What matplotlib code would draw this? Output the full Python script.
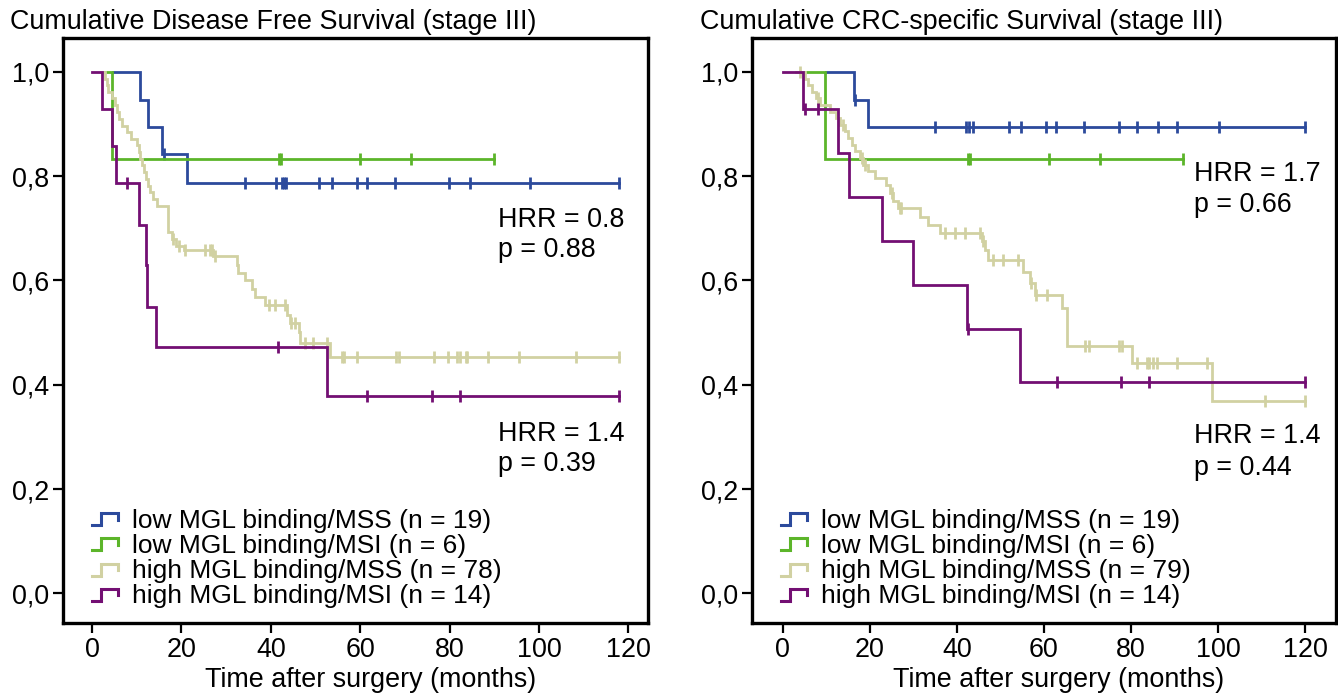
import numpy as np
import matplotlib
matplotlib.use("Agg")
import matplotlib.pyplot as plt
from matplotlib.legend_handler import HandlerBase
from matplotlib.lines import Line2D

plt.rcParams['font.family'] = ['Liberation Sans', 'DejaVu Sans']

# colours of the four groups
c_blue = '#2c4a9c'
c_green = '#5cb52a'
c_khaki = '#d1d1a2'
c_purple = '#730f73'

labels_dfs = ['low MGL binding/MSS (n = 19)', 'low MGL binding/MSI (n = 6)',
              'high MGL binding/MSS (n = 78)', 'high MGL binding/MSI (n = 14)']
labels_crc = ['low MGL binding/MSS (n = 19)', 'low MGL binding/MSI (n = 6)',
              'high MGL binding/MSS (n = 79)', 'high MGL binding/MSI (n = 14)']

# ---- disease free survival (left) ----
dfs_blue_start, dfs_blue_end = 4.7, 118
dfs_blue_t = [10.7, 12.5, 15.7, 21.3]
dfs_blue_s = [0.947, 0.895, 0.842, 0.786]
dfs_blue_cens = [16.2, 34.2, 41.2, 42.5, 43.0, 43.5, 50.8, 53.7, 59.3, 61.5,
                 67.8, 79.9, 84.6, 98.0, 118.0]

dfs_green_start, dfs_green_end = 3.0, 90
dfs_green_t = [4.4]
dfs_green_s = [0.833]
dfs_green_cens = [41.8, 42.2, 60.0, 71.4, 90.0]

dfs_khaki_start, dfs_khaki_end = 2.0, 118
dfs_khaki_t = [2.9, 3.4, 3.6, 4.5, 5.1, 5.6, 6.0, 6.7, 7.8, 8.7,
               10.1, 10.4, 10.7, 11.2, 11.6, 12.1, 12.5, 13.0, 13.6, 14.5,
               16.9, 17.1, 17.9, 18.8, 20.6, 27.1, 32.4, 32.7, 34.2, 35.7,
               36.5, 38.7, 43.6, 44.2, 46.2, 46.5, 53.2]
dfs_khaki_s = [0.987, 0.974, 0.962, 0.949, 0.936, 0.923, 0.910, 0.897, 0.885, 0.872,
               0.859, 0.846, 0.833, 0.821, 0.808, 0.795, 0.782, 0.769, 0.756, 0.743,
               0.717, 0.692, 0.679, 0.666, 0.658, 0.646, 0.630, 0.615, 0.600, 0.584,
               0.568, 0.553, 0.534, 0.519, 0.502, 0.480, 0.453]
dfs_khaki_cens = [18.2, 19.5, 20.8, 25.3, 26.4, 26.8, 27.5, 39.5, 40.9, 43.2, 44.6,
                  45.5, 47.7, 49.5, 52.5, 55.9, 56.4, 59.2, 68.0, 68.7, 76.6, 79.6,
                  81.6, 82.3, 83.6, 84.0, 88.5, 95.5, 108.4, 118.0]

dfs_purple_start, dfs_purple_end = 0.0, 118
dfs_purple_t = [2.2, 4.4, 5.3, 10.4, 12.0, 12.3, 14.2, 52.6]
dfs_purple_s = [0.929, 0.857, 0.786, 0.707, 0.629, 0.550, 0.473, 0.378]
dfs_purple_cens = [7.9, 41.7, 61.6, 76.0, 82.3, 118.0]

# ---- CRC-specific survival (right) ----
crc_blue_start, crc_blue_end = 10.0, 120
crc_blue_t = [16.4, 19.5]
crc_blue_s = [0.947, 0.894]
crc_blue_cens = [16.6, 34.9, 42.1, 42.8, 43.6, 52.0, 54.6, 60.5, 62.8, 69.2,
                 77.3, 81.4, 86.3, 90.6, 100.1, 120.0]

crc_green_start, crc_green_end = 5.4, 92
crc_green_t = [9.7]
crc_green_s = [0.833]
crc_green_cens = [42.6, 43.0, 61.1, 72.9, 92.0]

crc_khaki_start, crc_khaki_end = 3.0, 120
crc_khaki_t = [5.1, 5.8, 6.6, 7.7, 8.5, 10.8, 12.3, 13.1, 14.3, 15.0,
               15.8, 16.6, 17.7, 18.5, 19.6, 21.1, 23.8, 24.6, 25.4, 26.5,
               31.5, 33.4, 36.1, 45.7, 46.4, 47.2, 55.2, 56.8, 57.9, 64.1,
               65.2, 80.2, 98.6]
crc_khaki_s = [0.987, 0.975, 0.962, 0.949, 0.937, 0.924, 0.911, 0.899, 0.886, 0.873,
               0.860, 0.848, 0.835, 0.822, 0.810, 0.797, 0.784, 0.768, 0.752, 0.739,
               0.722, 0.707, 0.691, 0.675, 0.658, 0.640, 0.617, 0.595, 0.573, 0.547,
               0.474, 0.442, 0.368]
crc_khaki_cens = [4.0, 8.1, 13.8, 18.1, 18.9, 25.0, 26.9, 27.1, 37.2, 39.5, 41.8,
                  45.2, 46.0, 48.3, 50.6, 54.1, 57.0, 58.2, 60.6, 69.4, 70.4, 77.3,
                  77.9, 81.3, 83.6, 84.2, 85.1, 86.0, 90.5, 97.4, 110.8, 120.0]

crc_purple_start, crc_purple_end = 0.0, 120
crc_purple_t = [4.7, 12.6, 15.2, 22.7, 30.0, 42.4, 54.5]
crc_purple_s = [0.929, 0.845, 0.760, 0.676, 0.591, 0.507, 0.405]
crc_purple_cens = [5.1, 8.0, 42.6, 62.9, 77.6, 84.1, 120.0]


class StepHandler(HandlerBase):
    # small step icon like the SPSS legend
    def create_artists(self, legend, orig_handle, xdescent, ydescent,
                       width, height, fontsize, trans):
        x0, y0 = -xdescent, -ydescent
        xs = np.array([0.0, 0.35, 0.35, 1.0, 1.0]) * width + x0
        ys = np.array([0.15, 0.15, 0.8, 0.8, 0.45]) * height + y0
        ln = Line2D(xs, ys, color=orig_handle.get_color(), lw=2.2,
                    solid_joinstyle='miter', transform=trans)
        return [ln]


def km_curve(ax, start, end, times, surv, cens, color):
    xs = [start] + list(times) + [end]
    ys = [1.0] + list(surv) + [surv[-1]]
    line, = ax.plot(xs, ys, drawstyle='steps-post', color=color, lw=2.0,
                    solid_joinstyle='miter')
    levels = np.array([1.0] + list(surv))
    idx = np.searchsorted(np.array(times), np.array(cens), side='right')
    ax.plot(cens, levels[idx], ls='none', marker='|', ms=8, mew=2.0, color=color)
    return line


fig = plt.figure(figsize=(13.38, 6.94), dpi=100)
W, H = 1338, 694
ax1 = fig.add_axes([63 / W, 71 / H, 585 / W, 585 / H])
ax2 = fig.add_axes([752 / W, 71 / H, 584 / W, 585 / H])

fs = 19.4
fs_leg = 19
for ax, xl in [(ax1, (-6.5, 124.4)), (ax2, (-7.1, 127.1))]:
    ax.set_xlim(*xl)
    ax.set_ylim(-0.057, 1.065)
    ax.set_xticks(range(0, 121, 20))
    ax.set_yticks([0, 0.2, 0.4, 0.6, 0.8, 1.0])
    ax.set_yticklabels(['0,0', '0,2', '0,4', '0,6', '0,8', '1,0'])
    ax.tick_params(labelsize=fs, width=1.6, length=7, direction='out', pad=3)
    for sp in ax.spines.values():
        sp.set_linewidth(2.4)
    ax.set_xlabel('Time after surgery (months)', fontsize=fs, labelpad=3)
    ax.xaxis.set_label_coords(0.525, -0.075)

h = []
h.append(km_curve(ax1, dfs_blue_start, dfs_blue_end, dfs_blue_t, dfs_blue_s, dfs_blue_cens, c_blue))
h.append(km_curve(ax1, dfs_green_start, dfs_green_end, dfs_green_t, dfs_green_s, dfs_green_cens, c_green))
h.append(km_curve(ax1, dfs_khaki_start, dfs_khaki_end, dfs_khaki_t, dfs_khaki_s, dfs_khaki_cens, c_khaki))
h.append(km_curve(ax1, dfs_purple_start, dfs_purple_end, dfs_purple_t, dfs_purple_s, dfs_purple_cens, c_purple))
ax1.legend(h, labels_dfs, handler_map={Line2D: StepHandler()}, loc='lower left',
           bbox_to_anchor=(0.05, 0.025), frameon=False, fontsize=fs_leg,
           handlelength=0.97, handletextpad=0.55, labelspacing=0.04, borderpad=0,
           borderaxespad=0)

h2 = []
h2.append(km_curve(ax2, crc_blue_start, crc_blue_end, crc_blue_t, crc_blue_s, crc_blue_cens, c_blue))
h2.append(km_curve(ax2, crc_green_start, crc_green_end, crc_green_t, crc_green_s, crc_green_cens, c_green))
h2.append(km_curve(ax2, crc_khaki_start, crc_khaki_end, crc_khaki_t, crc_khaki_s, crc_khaki_cens, c_khaki))
h2.append(km_curve(ax2, crc_purple_start, crc_purple_end, crc_purple_t, crc_purple_s, crc_purple_cens, c_purple))
ax2.legend(h2, labels_crc, handler_map={Line2D: StepHandler()}, loc='lower left',
           bbox_to_anchor=(0.05, 0.025), frameon=False, fontsize=fs_leg,
           handlelength=0.97, handletextpad=0.55, labelspacing=0.04, borderpad=0,
           borderaxespad=0)

# hazard ratio notes
ax1.text(90.8, 0.716, 'HRR = 0.8', fontsize=fs, va='center')
ax1.text(90.8, 0.658, 'p = 0.88', fontsize=fs, va='center')
ax1.text(90.8, 0.305, 'HRR = 1.4', fontsize=fs, va='center')
ax1.text(90.8, 0.247, 'p = 0.39', fontsize=fs, va='center')
ax2.text(94.5, 0.805, 'HRR = 1.7', fontsize=fs, va='center')
ax2.text(94.5, 0.745, 'p = 0.66', fontsize=fs, va='center')
ax2.text(94.5, 0.301, 'HRR = 1.4', fontsize=fs, va='center')
ax2.text(94.5, 0.241, 'p = 0.44', fontsize=fs, va='center')

fig.text(10 / W, 1 - 22 / H, 'Cumulative Disease Free Survival (stage III)',
         fontsize=fs, va='center', ha='left')
fig.text(700 / W, 1 - 22 / H, 'Cumulative CRC-specific Survival (stage III)',
         fontsize=fs, va='center', ha='left')

fig.savefig('out.png', dpi=100)
